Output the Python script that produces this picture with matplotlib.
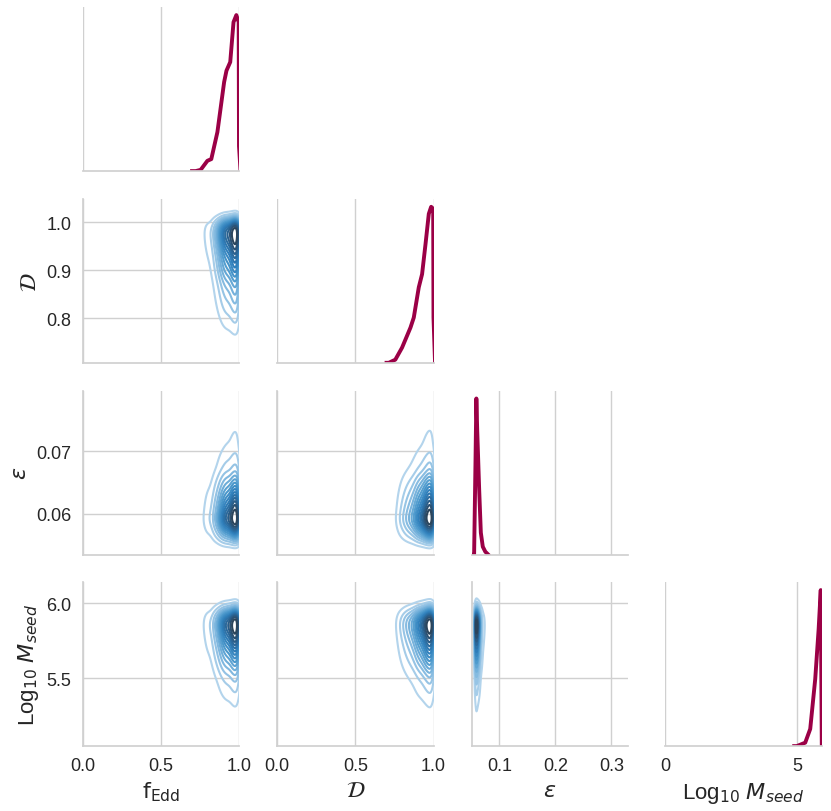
import numpy as np
import matplotlib
matplotlib.use("Agg")
import matplotlib.pyplot as plt
from matplotlib.colors import LinearSegmentedColormap

# ---- data: marginal posterior densities (relative heights) ----
fedd_x = [0.700, 0.723, 0.755, 0.798, 0.823, 0.862, 0.905, 0.920, 0.944, 0.965, 0.983, 0.998, 1.000, 1.010]
fedd_d = [0.000, 0.000, 0.008, 0.066, 0.077, 0.250, 0.571, 0.644, 0.699, 0.955, 1.000, 0.955, 0.160, 0.000]

dc_x = [0.700, 0.714, 0.756, 0.799, 0.853, 0.874, 0.906, 0.927, 0.949, 0.970, 0.985, 0.998, 1.000, 1.010]
dc_d = [0.000, 0.000, 0.020, 0.097, 0.226, 0.290, 0.484, 0.568, 0.761, 0.955, 1.000, 0.987, 0.290, 0.000]

eps_x = [0.0500, 0.0550, 0.0575, 0.0590, 0.0605, 0.0640, 0.0670, 0.0705, 0.0750, 0.0800]
eps_d = [0.000, 0.000, 0.600, 1.000, 0.800, 0.420, 0.140, 0.050, 0.018, 0.000]

logm_x = [4.90, 5.00, 5.32, 5.51, 5.70, 5.83, 5.91, 5.95]
logm_d = [0.000, 0.000, 0.022, 0.110, 0.430, 0.750, 1.000, 0.000]

param_names = [r"$\mathrm{f_{Edd}}$", r"$\mathcal{D}$", r"$\varepsilon$", r"Log$_{10}$ $M_{seed}$"]
marg_x = [fedd_x, dc_x, eps_x, logm_x]
marg_d = [fedd_d, dc_d, eps_d, logm_d]

# axis ranges and ticks per parameter
axis_lims = [(0.0, 1.0), (0.7077, 1.0486), (0.0535, 0.0797), (5.047, 6.141)]
col_xlims = [(0.0, 1.0), (0.0, 1.0), (0.0507, 0.330), (0.0, 5.95)]
col_xticks = [[0.0, 0.5, 1.0], [0.0, 0.5, 1.0], [0.1, 0.2, 0.3], [0, 5]]
col_xticklabels = [["0.0", "0.5", "1.0"], ["0.0", "0.5", "1.0"], ["0.1", "0.2", "0.3"], ["0", "5"]]
row_yticks = [[], [0.8, 0.9, 1.0], [0.06, 0.07], [5.5, 6.0]]
row_yticklabels = [[], ["0.8", "0.9", "1.0"], ["0.06", "0.07"], ["5.5", "6.0"]]

# grids and smoothing widths used to build the joint density tables
grid_ranges = [(0.60, 1.10), (0.60, 1.10), (0.045, 0.090), (4.70, 6.40)]
smooth_sig = [0.012, 0.013, 0.0008, 0.05]

# ---- style ----
plt.rcParams["font.family"] = ["Liberation Sans", "DejaVu Sans"]
GRID = "#d0d0d0"
TXT = "#262626"
LINE = "#9b0046"
cmap = LinearSegmentedColormap.from_list(
    "bl", ["#b3d4ec", "#80b8df", "#4d9acd", "#2f7fbb", "#2a6494", "#2b4a66", "#2c3a47"])

W, H = 831, 812
fig = plt.figure(figsize=(W / 100, H / 100), dpi=100)
fig.patch.set_facecolor("white")

lefts = [82.5, 277.0, 471.7, 665.3]
tops = [8.3, 200.0, 391.7, 583.3]
aw, ah = 156.5, 163.8

NG = 300


def smooth(Z, sig_pts, axis):
    r = int(4 * sig_pts) + 1
    k = np.exp(-0.5 * (np.arange(-r, r + 1) / sig_pts) ** 2)
    k /= k.sum()
    return np.apply_along_axis(lambda v: np.convolve(v, k, mode="same"), axis, Z)


def grid_for(p):
    lo, hi = grid_ranges[p]
    g = np.linspace(lo, hi, NG)
    dens = np.interp(g, marg_x[p], marg_d[p], left=0, right=0)
    return g, dens


def iso_levels(Z, n):
    props = np.linspace(0.05, 1.0, n)
    vals = np.sort(Z.ravel())[::-1]
    cum = np.cumsum(vals) / vals.sum()
    idx = np.clip(np.searchsorted(cum, 1 - props), 0, len(vals) - 1)
    lv = np.unique(vals[idx])
    return lv[lv > 0]


def style(ax, diag=False):
    ax.set_facecolor("white")
    for s in ["top", "right"]:
        ax.spines[s].set_visible(False)
    for s in ["left", "bottom"]:
        ax.spines[s].set_color(GRID)
        ax.spines[s].set_linewidth(1.25)
    if diag:
        ax.spines["left"].set_visible(False)
    ax.set_axisbelow(True)
    ax.grid(True, color=GRID, linewidth=1.0)
    if diag:
        ax.yaxis.grid(False)
    ax.tick_params(length=0, pad=8, labelsize=13, colors=TXT)


for i in range(4):
    for j in range(i + 1):
        l = lefts[j] / W
        b = 1 - (tops[i] + ah) / H
        ax = fig.add_axes([l, b, aw / W, ah / H])
        diag = i == j
        style(ax, diag)
        if diag:
            ax.plot(marg_x[i], marg_d[i], color=LINE, linewidth=2.8)
            ax.set_ylim(0, 1.05 * max(marg_d[i]))
            ax.set_yticks([])
        else:
            gx, dx = grid_for(j)
            gy, dy = grid_for(i)
            Z = np.outer(dy, dx)
            Z = smooth(Z, smooth_sig[j] / (gx[1] - gx[0]), 1)
            Z = smooth(Z, smooth_sig[i] / (gy[1] - gy[0]), 0)
            X, Y = np.meshgrid(gx, gy)
            ax.contour(X, Y, Z, levels=iso_levels(Z, 16), cmap=cmap, linewidths=1.5)
            ax.set_ylim(*axis_lims[i])
            ax.set_yticks(row_yticks[i])
            if j == 0:
                ax.set_yticklabels(row_yticklabels[i])
                ax.set_ylabel(param_names[i], fontsize=16, color=TXT)
            else:
                ax.set_yticklabels([])
        ax.set_xlim(*col_xlims[j])
        ax.set_xticks(col_xticks[j])
        if i == 3:
            ax.set_xticklabels(col_xticklabels[j])
            ax.set_xlabel(param_names[j], fontsize=16, color=TXT)
        else:
            ax.set_xticklabels([])

fig.savefig("out.png", dpi=100, facecolor="white")
